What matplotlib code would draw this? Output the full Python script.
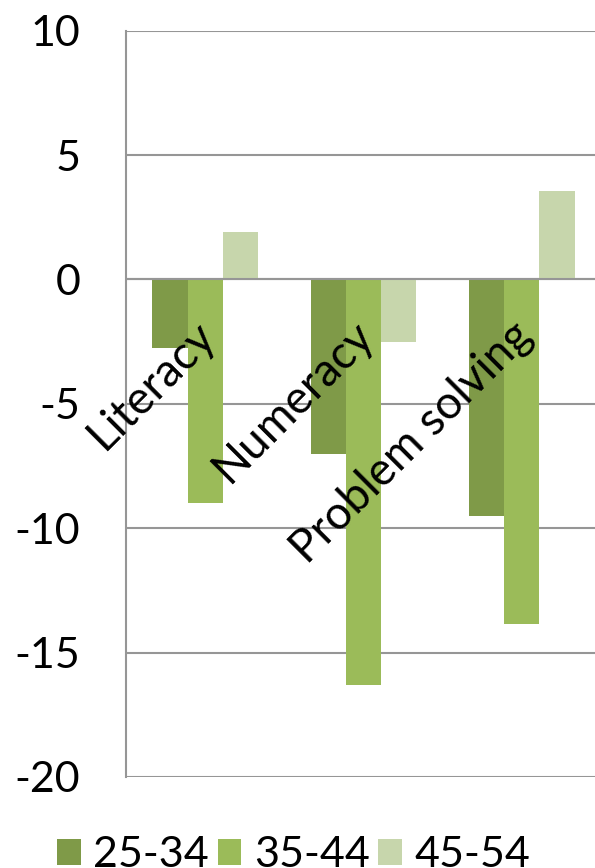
import numpy as np
import matplotlib.pyplot as plt

plt.rcParams['font.family'] = ['Lato', 'DejaVu Sans']
plt.rcParams['axes.unicode_minus'] = False

categories = ["Literacy", "Numeracy", "Problem solving"]
groups = ["25-34", "35-44", "45-54"]
values_25_34 = [-2.75, -7.0, -9.5]
values_35_44 = [-9.0, -16.3, -13.85]
values_45_54 = [1.9, -2.5, 3.55]
colors = ["#7F9A48", "#9BBB59", "#C7D6AC"]

fig = plt.figure(figsize=(5.95, 8.68), dpi=100)
ax = fig.add_axes([126 / 595, 1 - 777 / 868, 475 / 595, (777 - 30.7) / 868])

x = np.arange(len(categories))
w = 0.222
series = [values_25_34, values_35_44, values_45_54]
for k, (vals, col, lab) in enumerate(zip(series, colors, groups)):
    ax.bar(x + (k - 1) * w, vals, width=w, color=col, label=lab, zorder=2)

ax.set_xlim(-0.5, 2.5)
ax.set_ylim(-20, 10)
ax.set_yticks(np.arange(-20, 11, 5))
ax.yaxis.grid(True, color="#969696", linewidth=1.5, zorder=0)
ax.set_axisbelow(True)
ax.axhline(0, color="#969696", linewidth=1.5, zorder=3)
ax.tick_params(axis="y", length=0, pad=33, labelsize=31)
ax.set_xticks([])
for s in ["top", "right", "bottom"]:
    ax.spines[s].set_visible(False)
ax.spines["left"].set_color("#969696")
ax.spines["left"].set_linewidth(1.5)

# rotated category labels
for i, name in enumerate(categories):
    ax.text(i + 0.08, -2.35, name, rotation=45, rotation_mode="anchor",
            ha="right", va="baseline", fontsize=33, zorder=4)

fig.legend(loc="center left", bbox_to_anchor=(57 / 595, 1 - 855 / 868),
           ncol=3, frameon=False, fontsize=31, handlelength=0.55,
           handleheight=0.55, handletextpad=0.29, columnspacing=0.2,
           borderpad=0, borderaxespad=0)

fig.savefig("out.png", dpi=100)
